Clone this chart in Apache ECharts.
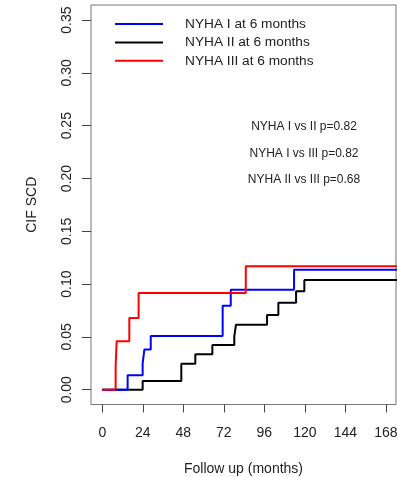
<!DOCTYPE html>
<html>
<head>
<meta charset="utf-8">
<style>
  html, body { margin: 0; padding: 0; background: #fff; }
  #chart { width: 397px; height: 477px; }
</style>
<script src="https://cdn.jsdelivr.net/npm/echarts@6/dist/echarts.min.js"></script>
</head>
<body>
<div id="chart"></div>
<script>
// Cumulative incidence of sudden cardiac death by NYHA class at 6 months
// Each array holds [month, cumulative incidence] step points
const nyha1 = [[0, 0], [15, 0.0136], [23.9, 0.025], [24.9, 0.038], [28.7, 0.0508],
  [71.3, 0.0795], [76.1, 0.0947], [113.6, 0.1136], [175, 0.1136]];
const nyha2 = [[0, 0], [23.9, 0.0082], [46.8, 0.0246], [55.1, 0.0335], [65.2, 0.0423],
  [78.2, 0.0508], [79.2, 0.0616], [97.6, 0.0707], [104.3, 0.0824], [114.8, 0.0932],
  [119.7, 0.1038], [175, 0.1038]];
const nyha3 = [[0, 0], [7.9, 0.0227], [8.5, 0.046], [16, 0.068], [21.5, 0.0916],
  [85, 0.117], [175, 0.117]];

const seriesNames = ['NYHA I at 6 months', 'NYHA II at 6 months', 'NYHA III at 6 months'];
const xTicks = [0, 24, 48, 72, 96, 120, 144, 168];
const yTicks = [0, 0.05, 0.10, 0.15, 0.20, 0.25, 0.30, 0.35];
const pValueNotes = ['NYHA I vs II p=0.82', 'NYHA I vs III p=0.82', 'NYHA II vs III p=0.68'];

const FONT = '"Liberation Sans", Arial, sans-serif';
const TEXT = '#222';

const chart = echarts.init(document.getElementById('chart'), null, { renderer: 'canvas' });

function stepSeries(name, data, color, z) {
  return {
    name: name,
    type: 'line',
    step: 'end',
    data: data,
    showSymbol: false,
    symbol: 'none',
    clip: true,
    z: z,
    lineStyle: { color: color, width: 2 },
    itemStyle: { color: color },
    emphasis: { disabled: true },
    animation: false
  };
}

chart.setOption({
  animation: false,
  backgroundColor: '#fff',
  textStyle: { fontFamily: FONT },
  grid: {
    left: 91, top: 5, right: 1, bottom: 72.5,
    containLabel: false,
    outerBoundsMode: 'none',
    show: true, borderColor: '#777', borderWidth: 1, backgroundColor: 'transparent'
  },
  legend: {
    orient: 'vertical',
    left: 110, top: 11,
    icon: 'rect',
    itemWidth: 48, itemHeight: 2,
    itemGap: 2.4,
    data: seriesNames,
    selectedMode: false,
    textStyle: { fontFamily: FONT, fontSize: 13.7, color: TEXT, lineHeight: 16, padding: [0, 0, 0, 17] }
  },
  xAxis: {
    type: 'value',
    min: -6.7, max: 174,
    axisLine: { show: false, onZero: false },
    splitLine: { show: false },
    axisTick: { show: true, inside: false, length: 8, customValues: xTicks, lineStyle: { color: '#444', width: 1 } },
    axisLabel: {
      customValues: xTicks, margin: 22,
      fontFamily: FONT, fontSize: 14, color: TEXT
    },
    name: 'Follow up (months)',
    nameLocation: 'middle',
    nameGap: 58,
    nameTextStyle: { fontFamily: FONT, fontSize: 14, color: TEXT }
  },
  yAxis: {
    type: 'value',
    min: -0.014, max: 0.3643,
    axisLine: { show: false, onZero: false },
    splitLine: { show: false },
    axisTick: { show: true, inside: false, length: 9, customValues: yTicks, lineStyle: { color: '#444', width: 1 } },
    axisLabel: {
      customValues: yTicks, margin: 17, rotate: 90,
      formatter: v => v.toFixed(2),
      fontFamily: FONT, fontSize: 14, color: TEXT
    },
    name: 'CIF SCD',
    nameLocation: 'middle',
    nameRotate: 90,
    nameGap: 52,
    nameTextStyle: { fontFamily: FONT, fontSize: 14, color: TEXT }
  },
  graphic: pValueNotes.map((t, i) => ({
    type: 'text',
    x: 304, y: 126.7 + i * 26.7,
    style: { text: t, fontFamily: FONT, fontSize: 12, fill: TEXT, align: 'center', verticalAlign: 'middle' }
  })),
  series: [
    stepSeries(seriesNames[1], nyha2, '#000000', 2),
    stepSeries(seriesNames[0], nyha1, '#0000ff', 3),
    stepSeries(seriesNames[2], nyha3, '#ff0000', 4)
  ]
});
</script>
</body>
</html>
